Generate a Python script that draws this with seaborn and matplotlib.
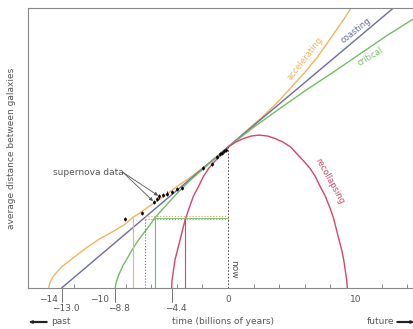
import numpy as np
import pandas as pd
import seaborn as sns
from matplotlib import pyplot as plt

# time in billions of years (0 = now), size relative to today's (now = 1)
acc_t = [-14.0, -13.95, -13.85, -13.7, -13.4, -13.0, -12.5, -12.0, -11.0, -10.0, -9.0, -8.0,
         -7.45, -7.0, -6.0, -5.0, -4.0, -3.0, -2.0, -1.0, 0.0, 1.0, 2.0, 3.0, 4.0, 5.0,
         6.0, 7.0, 8.0, 9.0, 9.7]
acc_y = [0.0, 0.03, 0.05, 0.075, 0.11, 0.15, 0.185, 0.22, 0.29, 0.35, 0.40, 0.455,
         0.50, 0.525, 0.59, 0.65, 0.72, 0.78, 0.85, 0.92, 1.0, 1.08, 1.16, 1.24, 1.33, 1.43,
         1.53, 1.64, 1.77, 1.90, 2.0]

coast_t = [-13.0, -6.5, 0.0, 13.1]
coast_y = [0.0, 0.5, 1.0, 2.0]

crit_t = [-8.8, -8.78, -8.7, -8.55, -8.4, -8.2, -8.0, -7.5, -7.0, -6.5, -6.0, -5.7, -5.0, -4.0,
          -3.0, -2.0, -1.0, 0.0, 2.0, 4.3, 6.2, 8.2, 10.3, 12.4, 14.5]
crit_y = [0.0, 0.02, 0.05, 0.09, 0.12, 0.16, 0.19, 0.27, 0.34, 0.40, 0.46, 0.50, 0.57, 0.67,
          0.76, 0.84, 0.92, 1.0, 1.14, 1.29, 1.41, 1.53, 1.66, 1.79, 1.91]

rec_t = [-4.4, -4.38, -4.3, -4.14, -4.0, -3.75, -3.36, -3.1, -2.71, -2.3, -1.93, -1.5, -1.02,
         -0.5, 0.0, 0.6, 1.2, 1.8, 2.45, 3.1, 3.7, 4.3, 4.9, 5.4, 5.92, 6.4, 6.83, 7.2,
         7.61, 8.0, 8.26, 8.65, 8.88, 9.04, 9.2, 9.28, 9.32]
rec_y = [0.0, 0.05, 0.10, 0.20, 0.25, 0.34, 0.48, 0.55, 0.65, 0.72, 0.79, 0.85, 0.90,
         0.95, 1.0, 1.035, 1.06, 1.078, 1.085, 1.078, 1.06, 1.035, 1.0, 0.95, 0.90, 0.85,
         0.79, 0.72, 0.65, 0.56, 0.49, 0.35, 0.27, 0.20, 0.10, 0.05, 0.0]

sn_t = [-8.05, -6.74, -5.78, -5.52, -5.37, -5.05, -4.79, -4.40, -4.01, -3.62,
        -1.93, -1.27, -0.88, -0.63, -0.49, -0.31, -0.16]
sn_y = [0.49, 0.53, 0.61, 0.63, 0.65, 0.66, 0.67, 0.68, 0.70, 0.71,
        0.85, 0.88, 0.93, 0.95, 0.96, 0.97, 0.98]

# look-back times where each model reaches half today's size
half_t = [-7.45, -6.5, -5.7, -3.36]

main_ticks = [-14, -10, 0, 10]
main_labels = ["\u221214", "\u221210", "0", "10"]
age_ticks = [-13.0, -8.8, -4.4]
age_labels = ["\u221213.0", "\u22128.8", "\u22124.4"]

c_acc = "#f2b45c"
c_coast = "#6b6aa6"
c_crit = "#72bd62"
c_rec = "#d8436a"
grey = "#555555"

sns.set_style("white")
plt.rcParams["font.family"] = ["DejaVu Sans"]

fig = plt.figure(figsize=(4.14, 3.29), dpi=100)
ax = fig.add_axes([0.0676, 0.1246, 0.9324, 0.850])

curves = [(acc_t, acc_y, c_acc), (coast_t, coast_y, c_coast),
          (crit_t, crit_y, c_crit), (rec_t, rec_y, c_rec)]
for t, y, c in curves:
    df = pd.DataFrame({"t": t, "y": y})
    sns.lineplot(data=df, x="t", y="y", color=c, lw=1.0, ax=ax, estimator=None, sort=False)

# now line and half-size markers
ax.plot([0, 0], [0, 1.0], ls=(0, (2, 2)), color="#333333", lw=0.6)
styles = ["-", ":", "-", "-"]
for t, c, s in zip(half_t, [c_acc, c_coast, c_crit, c_rec], styles):
    ax.plot([t, t], [0, 0.5], color=c, lw=0.8, ls=s)
ax.plot([half_t[1], 0], [0.51, 0.51], color="#c8a878", lw=0.8, ls=":")
ax.plot([half_t[1], 0], [0.49, 0.49], color="#999999", lw=0.8, ls=":")
ax.plot([half_t[2], 0], [0.50, 0.50], color=c_crit, lw=0.6)

sns.scatterplot(x=sn_t, y=sn_y, color="black", s=4, ax=ax, zorder=5, edgecolor=None)
ax.errorbar(sn_t, sn_y, yerr=0.015, fmt="none", ecolor="black", lw=0.6, zorder=5)

ax.text(-10.94, 0.823, "supernova data", fontsize=6.5, color=grey, ha="center", va="center")
for i in [2, 4]:
    ax.annotate("", xy=(sn_t[i], sn_y[i]), xytext=(-8.2, 0.82),
                arrowprops=dict(arrowstyle="-|>", color=grey, lw=0.6, shrinkA=0, shrinkB=1,
                                mutation_scale=5))

ax.text(6.0, 1.63, "accelerating", color=c_acc, fontsize=6, rotation=52,
        ha="center", va="center")
ax.text(10.0, 1.83, "coasting", color=c_coast, fontsize=6, rotation=38,
        ha="center", va="center")
ax.text(11.1, 1.64, "critical", color=c_crit, fontsize=6, rotation=31,
        ha="center", va="center")
ax.text(7.9, 0.76, "recollapsing", color=c_rec, fontsize=6, rotation=-61,
        ha="center", va="center")
ax.text(0.45, 0.13, "now", color=grey, fontsize=6.5, rotation=-90,
        ha="center", va="center")

ax.set_xlim(-15.625, 14.53)
ax.set_ylim(0, 1.984)
ax.set_xticks(main_ticks)
ax.set_xticklabels(main_labels)
ax.set_xticks(np.arange(-14, 15, 2), minor=True)
ax.set_yticks([])
ax.tick_params(axis="x", which="major", direction="inout", length=8, width=0.7,
               color="#888888", labelsize=6.5, labelcolor=grey, pad=1)
ax.tick_params(axis="x", which="minor", direction="in", length=3, width=0.7,
               color="#888888", bottom=True)

trans = ax.get_xaxis_transform()
for t, lab in zip(age_ticks, age_labels):
    ax.plot([t, t], [0, -0.05], transform=trans, color="#777777", lw=0.7, clip_on=False)
    ax.text(t + 0.3, -0.075, lab, transform=trans, fontsize=6.5, color=grey,
            ha="center", va="center")

for side in ["left", "bottom", "top"]:
    ax.spines[side].set_color("#888888")
    ax.spines[side].set_linewidth(0.8)
ax.spines["right"].set_visible(False)
ax.set_xlabel("")
ax.set_ylabel("")

fig.text(12 / 414, 1 - 148 / 329, "average distance between galaxies", rotation=90,
         fontsize=6.5, color=grey, ha="center", va="center")
fig.text(223 / 414, 1 - 322 / 329, "time (billions of years)", fontsize=6.5, color=grey,
         ha="center", va="center")
fig.text(51 / 414, 1 - 322 / 329, "past", fontsize=6.5, color=grey, ha="left", va="center")
fig.text(394 / 414, 1 - 322 / 329, "future", fontsize=6.5, color=grey, ha="right", va="center")
fig.patches.append(plt.Arrow(47 / 414, 1 - 322 / 329, -17 / 414, 0, width=0.012,
                             transform=fig.transFigure, figure=fig, color="#222222"))
fig.patches.append(plt.Arrow(397 / 414, 1 - 322 / 329, 16 / 414, 0, width=0.012,
                             transform=fig.transFigure, figure=fig, color="#222222"))

fig.savefig("out.png", dpi=100)
